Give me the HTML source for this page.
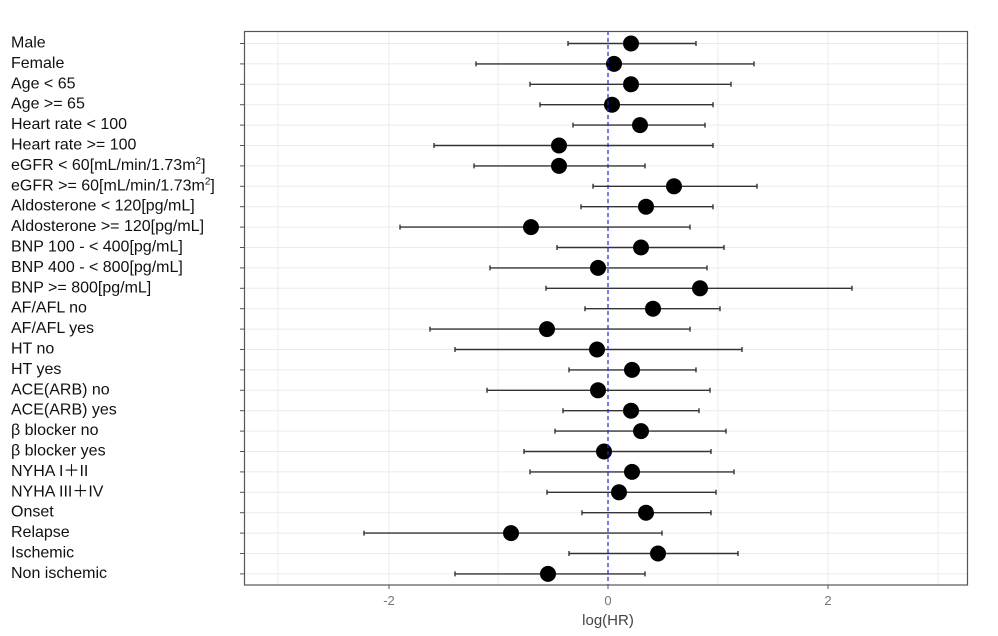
<!DOCTYPE html>
<html><head><meta charset="utf-8"><style>
html,body{margin:0;padding:0;background:#fff;}
svg{display:block;}
text{font-family:"Liberation Sans","Noto Sans CJK JP",sans-serif;}
.g{stroke:#ebebeb}.t{stroke:#555}.c{stroke:#333;stroke-width:1.4}
.l{font-size:16px;fill:#111}
</style></head><body>
<svg width="998" height="636" viewBox="0 0 998 636" xmlns="http://www.w3.org/2000/svg">
<g stroke="#ebebeb" stroke-width="1">
<line x1="278" y1="31" x2="278" y2="585"/><line x1="498" y1="31" x2="498" y2="585"/>
<line x1="718" y1="31" x2="718" y2="585"/><line x1="938" y1="31" x2="938" y2="585"/>
<line x1="389" y1="31" x2="389" y2="585"/><line x1="608" y1="31" x2="608" y2="585"/><line x1="828" y1="31" x2="828" y2="585"/>
</g>
<g transform="translate(0,43.5)"><line class="g" x1="245" x2="967" y1="0" y2="0"/><line class="t" x1="240" x2="244" y1="0" y2="0"/><text class="l" x="11" y="4">Male</text><path class="c" fill="none" d="M568 0H696M568 -2.5V2.5M696 -2.5V2.5"/><circle cx="631" cy="0" r="8"/></g>
<g transform="translate(0,63.9)"><line class="g" x1="245" x2="967" y1="0" y2="0"/><line class="t" x1="240" x2="244" y1="0" y2="0"/><text class="l" x="11" y="4">Female</text><path class="c" fill="none" d="M476 0H754M476 -2.5V2.5M754 -2.5V2.5"/><circle cx="614" cy="0" r="8"/></g>
<g transform="translate(0,84.3)"><line class="g" x1="245" x2="967" y1="0" y2="0"/><line class="t" x1="240" x2="244" y1="0" y2="0"/><text class="l" x="11" y="4">Age &lt; 65</text><path class="c" fill="none" d="M530 0H731M530 -2.5V2.5M731 -2.5V2.5"/><circle cx="631" cy="0" r="8"/></g>
<g transform="translate(0,104.7)"><line class="g" x1="245" x2="967" y1="0" y2="0"/><line class="t" x1="240" x2="244" y1="0" y2="0"/><text class="l" x="11" y="4">Age &gt;= 65</text><path class="c" fill="none" d="M540 0H713M540 -2.5V2.5M713 -2.5V2.5"/><circle cx="612" cy="0" r="8"/></g>
<g transform="translate(0,125.1)"><line class="g" x1="245" x2="967" y1="0" y2="0"/><line class="t" x1="240" x2="244" y1="0" y2="0"/><text class="l" x="11" y="4">Heart rate &lt; 100</text><path class="c" fill="none" d="M573 0H705M573 -2.5V2.5M705 -2.5V2.5"/><circle cx="640" cy="0" r="8"/></g>
<g transform="translate(0,145.5)"><line class="g" x1="245" x2="967" y1="0" y2="0"/><line class="t" x1="240" x2="244" y1="0" y2="0"/><text class="l" x="11" y="4">Heart rate &gt;= 100</text><path class="c" fill="none" d="M434 0H713M434 -2.5V2.5M713 -2.5V2.5"/><circle cx="559" cy="0" r="8"/></g>
<g transform="translate(0,165.9)"><line class="g" x1="245" x2="967" y1="0" y2="0"/><line class="t" x1="240" x2="244" y1="0" y2="0"/><text class="l" x="11" y="4">eGFR &lt; 60[mL/min/1.73m<tspan dy="-6" font-size="10">2</tspan><tspan dy="6">]</tspan></text><path class="c" fill="none" d="M474 0H645M474 -2.5V2.5M645 -2.5V2.5"/><circle cx="559" cy="0" r="8"/></g>
<g transform="translate(0,186.3)"><line class="g" x1="245" x2="967" y1="0" y2="0"/><line class="t" x1="240" x2="244" y1="0" y2="0"/><text class="l" x="11" y="4">eGFR &gt;= 60[mL/min/1.73m<tspan dy="-6" font-size="10">2</tspan><tspan dy="6">]</tspan></text><path class="c" fill="none" d="M593 0H757M593 -2.5V2.5M757 -2.5V2.5"/><circle cx="674" cy="0" r="8"/></g>
<g transform="translate(0,206.7)"><line class="g" x1="245" x2="967" y1="0" y2="0"/><line class="t" x1="240" x2="244" y1="0" y2="0"/><text class="l" x="11" y="4">Aldosterone &lt; 120[pg/mL]</text><path class="c" fill="none" d="M581 0H713M581 -2.5V2.5M713 -2.5V2.5"/><circle cx="646" cy="0" r="8"/></g>
<g transform="translate(0,227.1)"><line class="g" x1="245" x2="967" y1="0" y2="0"/><line class="t" x1="240" x2="244" y1="0" y2="0"/><text class="l" x="11" y="4">Aldosterone &gt;= 120[pg/mL]</text><path class="c" fill="none" d="M400 0H690M400 -2.5V2.5M690 -2.5V2.5"/><circle cx="531" cy="0" r="8"/></g>
<g transform="translate(0,247.5)"><line class="g" x1="245" x2="967" y1="0" y2="0"/><line class="t" x1="240" x2="244" y1="0" y2="0"/><text class="l" x="11" y="4">BNP 100 - &lt; 400[pg/mL]</text><path class="c" fill="none" d="M557 0H724M557 -2.5V2.5M724 -2.5V2.5"/><circle cx="641" cy="0" r="8"/></g>
<g transform="translate(0,267.9)"><line class="g" x1="245" x2="967" y1="0" y2="0"/><line class="t" x1="240" x2="244" y1="0" y2="0"/><text class="l" x="11" y="4">BNP 400 - &lt; 800[pg/mL]</text><path class="c" fill="none" d="M490 0H707M490 -2.5V2.5M707 -2.5V2.5"/><circle cx="598" cy="0" r="8"/></g>
<g transform="translate(0,288.3)"><line class="g" x1="245" x2="967" y1="0" y2="0"/><line class="t" x1="240" x2="244" y1="0" y2="0"/><text class="l" x="11" y="4">BNP &gt;= 800[pg/mL]</text><path class="c" fill="none" d="M546 0H852M546 -2.5V2.5M852 -2.5V2.5"/><circle cx="700" cy="0" r="8"/></g>
<g transform="translate(0,308.7)"><line class="g" x1="245" x2="967" y1="0" y2="0"/><line class="t" x1="240" x2="244" y1="0" y2="0"/><text class="l" x="11" y="4">AF/AFL no</text><path class="c" fill="none" d="M585 0H720M585 -2.5V2.5M720 -2.5V2.5"/><circle cx="653" cy="0" r="8"/></g>
<g transform="translate(0,329.1)"><line class="g" x1="245" x2="967" y1="0" y2="0"/><line class="t" x1="240" x2="244" y1="0" y2="0"/><text class="l" x="11" y="4">AF/AFL yes</text><path class="c" fill="none" d="M430 0H690M430 -2.5V2.5M690 -2.5V2.5"/><circle cx="547" cy="0" r="8"/></g>
<g transform="translate(0,349.5)"><line class="g" x1="245" x2="967" y1="0" y2="0"/><line class="t" x1="240" x2="244" y1="0" y2="0"/><text class="l" x="11" y="4">HT no</text><path class="c" fill="none" d="M455 0H742M455 -2.5V2.5M742 -2.5V2.5"/><circle cx="597" cy="0" r="8"/></g>
<g transform="translate(0,369.9)"><line class="g" x1="245" x2="967" y1="0" y2="0"/><line class="t" x1="240" x2="244" y1="0" y2="0"/><text class="l" x="11" y="4">HT yes</text><path class="c" fill="none" d="M569 0H696M569 -2.5V2.5M696 -2.5V2.5"/><circle cx="632" cy="0" r="8"/></g>
<g transform="translate(0,390.3)"><line class="g" x1="245" x2="967" y1="0" y2="0"/><line class="t" x1="240" x2="244" y1="0" y2="0"/><text class="l" x="11" y="4">ACE(ARB) no</text><path class="c" fill="none" d="M487 0H710M487 -2.5V2.5M710 -2.5V2.5"/><circle cx="598" cy="0" r="8"/></g>
<g transform="translate(0,410.7)"><line class="g" x1="245" x2="967" y1="0" y2="0"/><line class="t" x1="240" x2="244" y1="0" y2="0"/><text class="l" x="11" y="4">ACE(ARB) yes</text><path class="c" fill="none" d="M563 0H699M563 -2.5V2.5M699 -2.5V2.5"/><circle cx="631" cy="0" r="8"/></g>
<g transform="translate(0,431.1)"><line class="g" x1="245" x2="967" y1="0" y2="0"/><line class="t" x1="240" x2="244" y1="0" y2="0"/><text class="l" x="11" y="4">β blocker no</text><path class="c" fill="none" d="M555 0H726M555 -2.5V2.5M726 -2.5V2.5"/><circle cx="641" cy="0" r="8"/></g>
<g transform="translate(0,451.5)"><line class="g" x1="245" x2="967" y1="0" y2="0"/><line class="t" x1="240" x2="244" y1="0" y2="0"/><text class="l" x="11" y="4">β blocker yes</text><path class="c" fill="none" d="M524 0H711M524 -2.5V2.5M711 -2.5V2.5"/><circle cx="604" cy="0" r="8"/></g>
<g transform="translate(0,471.9)"><line class="g" x1="245" x2="967" y1="0" y2="0"/><line class="t" x1="240" x2="244" y1="0" y2="0"/><text class="l" x="11" y="4">NYHA I＋II</text><path class="c" fill="none" d="M530 0H734M530 -2.5V2.5M734 -2.5V2.5"/><circle cx="632" cy="0" r="8"/></g>
<g transform="translate(0,492.3)"><line class="g" x1="245" x2="967" y1="0" y2="0"/><line class="t" x1="240" x2="244" y1="0" y2="0"/><text class="l" x="11" y="4">NYHA III＋IV</text><path class="c" fill="none" d="M547 0H716M547 -2.5V2.5M716 -2.5V2.5"/><circle cx="619" cy="0" r="8"/></g>
<g transform="translate(0,512.7)"><line class="g" x1="245" x2="967" y1="0" y2="0"/><line class="t" x1="240" x2="244" y1="0" y2="0"/><text class="l" x="11" y="4">Onset</text><path class="c" fill="none" d="M582 0H711M582 -2.5V2.5M711 -2.5V2.5"/><circle cx="646" cy="0" r="8"/></g>
<g transform="translate(0,533.1)"><line class="g" x1="245" x2="967" y1="0" y2="0"/><line class="t" x1="240" x2="244" y1="0" y2="0"/><text class="l" x="11" y="4">Relapse</text><path class="c" fill="none" d="M364 0H662M364 -2.5V2.5M662 -2.5V2.5"/><circle cx="511" cy="0" r="8"/></g>
<g transform="translate(0,553.5)"><line class="g" x1="245" x2="967" y1="0" y2="0"/><line class="t" x1="240" x2="244" y1="0" y2="0"/><text class="l" x="11" y="4">Ischemic</text><path class="c" fill="none" d="M569 0H738M569 -2.5V2.5M738 -2.5V2.5"/><circle cx="658" cy="0" r="8"/></g>
<g transform="translate(0,573.9)"><line class="g" x1="245" x2="967" y1="0" y2="0"/><line class="t" x1="240" x2="244" y1="0" y2="0"/><text class="l" x="11" y="4">Non ischemic</text><path class="c" fill="none" d="M455 0H645M455 -2.5V2.5M645 -2.5V2.5"/><circle cx="548" cy="0" r="8"/></g>
<line x1="608" y1="31" x2="608" y2="585" stroke="#2222dd" stroke-width="1.2" stroke-dasharray="4,3"/>
<rect x="244.5" y="31.5" width="723" height="553.5" fill="none" stroke="#555" stroke-width="1.2"/>
<g font-size="13" fill="#777" text-anchor="middle">
<line x1="389" y1="585" x2="389" y2="589" stroke="#555"/><line x1="608" y1="585" x2="608" y2="589" stroke="#555"/><line x1="828" y1="585" x2="828" y2="589" stroke="#555"/>
<text x="389" y="605">-2</text><text x="608" y="605">0</text><text x="828" y="605">2</text>
</g>
<text x="608" y="625" font-size="15" fill="#444" text-anchor="middle">log(HR)</text>
</svg>
</body></html>
